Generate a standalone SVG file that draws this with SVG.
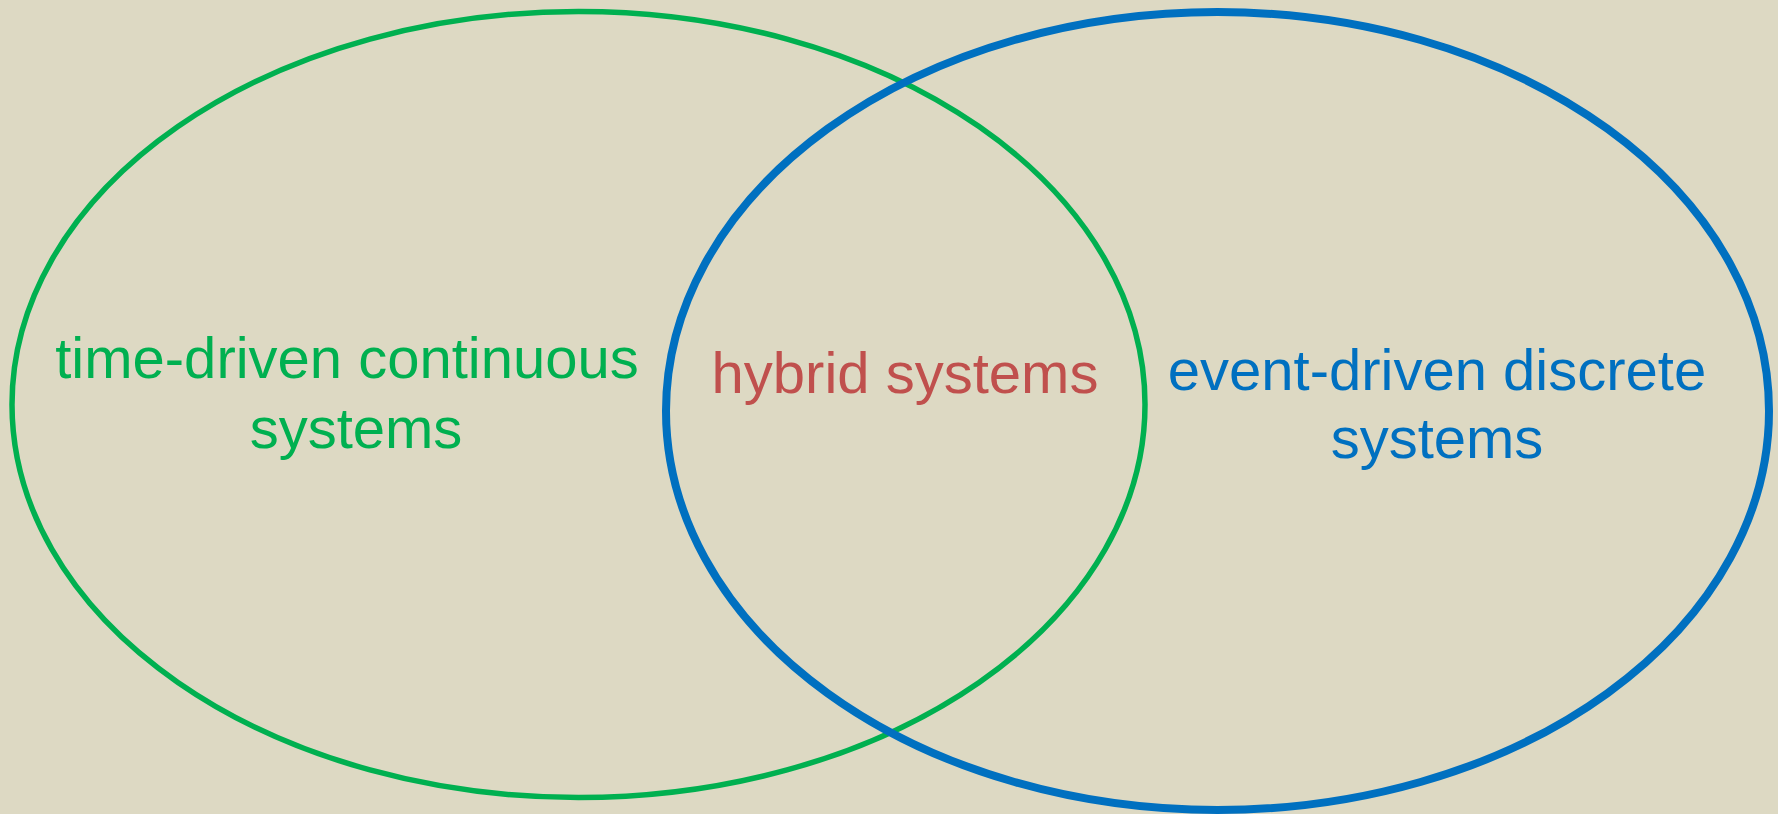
<svg xmlns="http://www.w3.org/2000/svg" width="1778" height="814" viewBox="0 0 1778 814">
  <style>
    .set { fill: none; }
    .label { font-family: "Liberation Sans", Arial, sans-serif; font-size: 58px; text-anchor: middle; }
    .continuous { stroke: #00B050; stroke-width: 5.5; }
    .discrete { stroke: #0070C0; stroke-width: 8; }
    .green { fill: #00B050; }
    .blue { fill: #0070C0; }
    .red { fill: #C0504D; }
  </style>
  <rect width="1778" height="814" fill="#DDD9C3"/>

  <!-- time-driven continuous systems set -->
  <g id="continuous-set">
    <ellipse class="set continuous" cx="578.5" cy="404.5" rx="566.5" ry="393"/>
    <text class="label green" x="347" y="378">time-driven continuous</text>
    <text class="label green" x="356" y="448">systems</text>
  </g>

  <!-- event-driven discrete systems set -->
  <g id="discrete-set">
    <ellipse class="set discrete" cx="1217.5" cy="411" rx="551.5" ry="399"/>
    <text class="label blue" x="1437" y="390">event-driven discrete</text>
    <text class="label blue" x="1437" y="458">systems</text>
  </g>

  <!-- overlap of the two sets -->
  <g id="hybrid">
    <text class="label red" x="905" y="393">hybrid systems</text>
  </g>
</svg>
